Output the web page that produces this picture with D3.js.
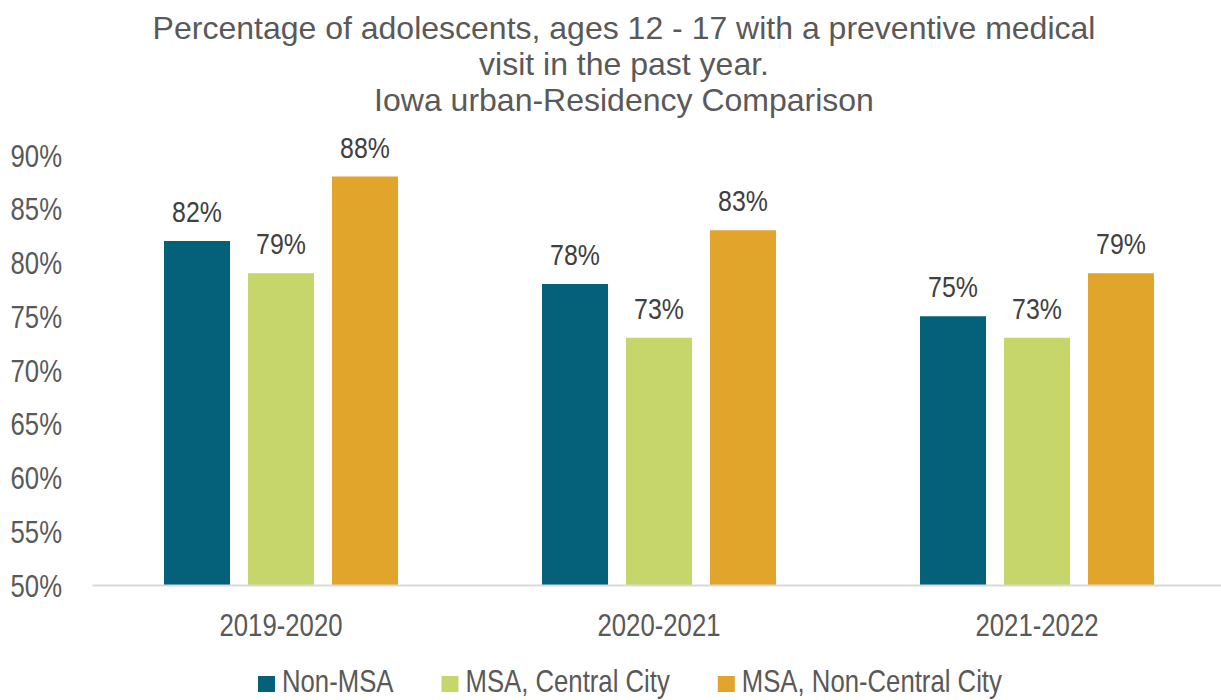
<!DOCTYPE html>
<html>
<head>
<meta charset="utf-8">
<script src="https://cdn.jsdelivr.net/npm/d3@7"></script>
<style>
  html, body { margin: 0; padding: 0; background: #fff; }
  svg { display: block; font-family: "Liberation Sans", Arial, sans-serif; }
</style>
</head>
<body>
<svg id="chart" width="1221" height="700"></svg>
<script>
// Survey periods and residency groups
const periods = ["2019-2020", "2020-2021", "2021-2022"];
const seriesNames = ["Non-MSA", "MSA, Central City", "MSA, Non-Central City"];
const nonMSA = [82, 78, 75];
const msaCentral = [79, 73, 73];
const msaNonCentral = [88, 83, 79];
const yTicks = [50, 55, 60, 65, 70, 75, 80, 85, 90];
const titleLines = [
  "Percentage of adolescents, ages 12 - 17 with a preventive medical",
  "visit in the past year.",
  "Iowa urban-Residency Comparison"
];
const colors = ["#05607A", "#C6D66A", "#E0A52A"];

const seriesValues = [nonMSA, msaCentral, msaNonCentral];
const rows = periods.map((p, i) => ({
  period: p,
  values: seriesNames.map((s, j) => ({ series: s, idx: j, value: seriesValues[j][i] }))
}));

const svg = d3.select("#chart");
const textColor = "#595959";
const narrow = 0.83; // horizontal squeeze for the condensed labels

const plot = { left: 92, right: 1226, top: 155, bottom: 585 };

const x0 = d3.scaleBand().domain(periods).range([plot.left, plot.right]).paddingInner(0).paddingOuter(0);
const x1 = d3.scaleBand().domain(seriesNames).range([72, 378 - 72]).paddingInner(18 / 84).paddingOuter(0);
const y = d3.scaleLinear().domain([50, 90]).range([plot.bottom, plot.top]);

// Title
const title = svg.append("text")
  .attr("text-anchor", "middle")
  .attr("fill", textColor)
  .style("font-size", "32px");
titleLines.forEach((t, i) => {
  title.append("tspan").attr("x", 624).attr("y", 39 + i * 36).text(t);
});

// Y axis labels
const yAxis = d3.axisLeft(y).tickValues(yTicks).tickFormat(d => d + "%").tickSize(0).tickPadding(0);
const yg = svg.append("g").attr("transform", "translate(62,0)").call(yAxis);
yg.select(".domain").remove();
yg.selectAll("text").attr("font-family", null)
  .attr("fill", textColor).style("font-size", "31px").attr("dy", "0.36em")
  .attr("transform", `scale(${narrow},1)`);

// Bars
const groups = svg.append("g").selectAll("g").data(rows).join("g")
  .attr("transform", d => `translate(${x0(d.period)},0)`);

groups.selectAll("rect").data(d => d.values).join("rect")
  .attr("x", d => x1(d.series))
  .attr("width", x1.bandwidth())
  .attr("y", d => y(d.value))
  .attr("height", d => y(50) - y(d.value))
  .attr("fill", d => colors[d.idx]);

groups.selectAll("text.val").data(d => d.values).join("text")
  .attr("class", "val")
  .attr("transform", d => `translate(${x1(d.series) + x1.bandwidth() / 2},${y(d.value) - 19}) scale(${narrow},1)`)
  .attr("text-anchor", "middle")
  .attr("fill", "#404040")
  .style("font-size", "30px")
  .text(d => d.value + "%");

// Baseline / X axis
const xAxis = d3.axisBottom(x0).tickSize(0).tickPadding(0);
const xg = svg.append("g").attr("transform", `translate(0,${plot.bottom})`).call(xAxis);
xg.select(".domain").attr("stroke", "#D9D9D9").attr("stroke-width", 2);
xg.selectAll("text").attr("font-family", null)
  .attr("fill", textColor).style("font-size", "31px").attr("y", 51).attr("dy", 0)
  .attr("transform", `scale(${narrow},1)`);

// Legend
const legend = svg.append("g").attr("transform", "translate(258,676)");
let lx = 0;
seriesNames.forEach((name, i) => {
  const item = legend.append("g").attr("transform", `translate(${lx},0)`);
  item.append("rect").attr("width", 17).attr("height", 16).attr("fill", colors[i]);
  const t = item.append("text").attr("transform", `translate(24,16) scale(${narrow},1)`)
    .attr("fill", textColor).style("font-size", "31px").text(name);
  lx += 24 + t.node().getComputedTextLength() * narrow + 48;
});
</script>
</body>
</html>
